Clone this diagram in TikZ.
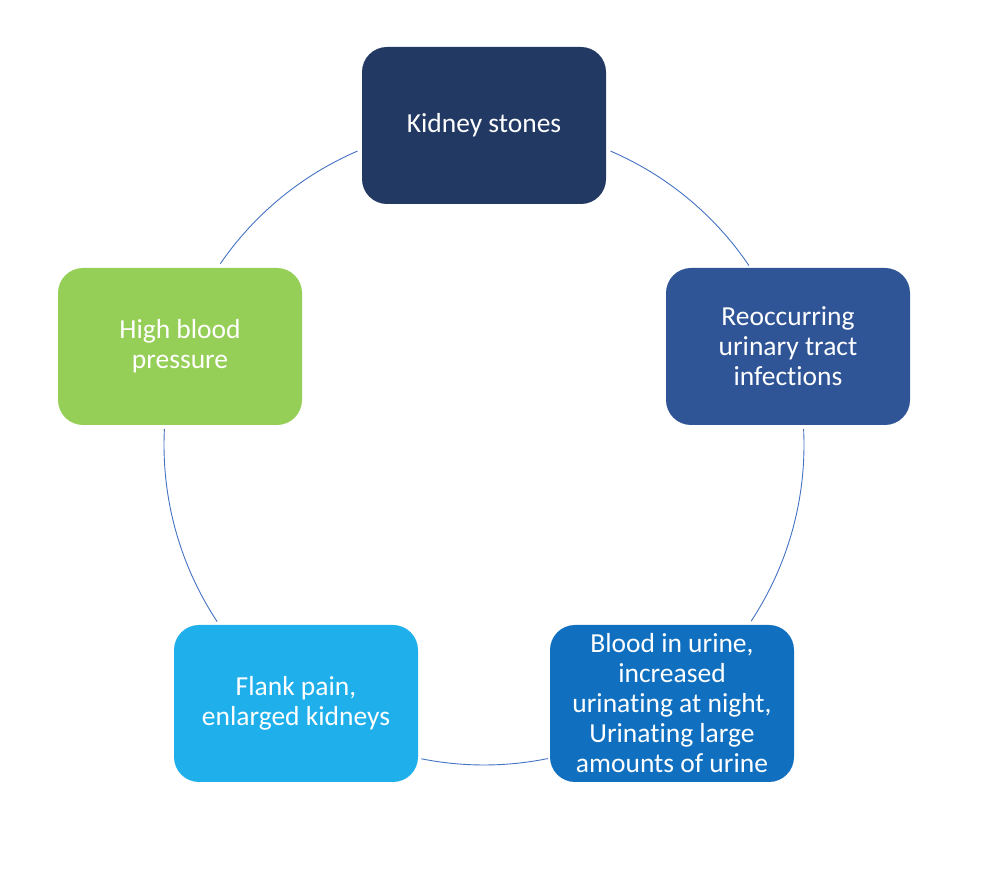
\documentclass[tikz,border=0pt]{standalone}
\usepackage{fontspec}
\setmainfont{Carlito}[Ligatures=NoCommon]
\begin{document}
\begin{tikzpicture}[x=1pt,y=1pt,
  box/.style={rounded corners=25pt, minimum width=244pt, minimum height=157pt,
    inner sep=0pt, align=center, text=white, font=\fontsize{27.5}{30}\selectfont},
  arcline/.style={draw=arcblue, line width=0.9pt}]
\definecolor{c1}{RGB}{34,58,99}
\definecolor{c2}{RGB}{47,85,151}
\definecolor{c3}{RGB}{16,112,191}
\definecolor{c4}{RGB}{31,176,236}
\definecolor{c5}{RGB}{150,207,88}
\definecolor{arcblue}{RGB}{68,114,196}
\useasboundingbox (0,0) rectangle (982,878);
\coordinate (c) at (484,433);
\def\R{320}
\draw[arcline] ([shift={(66.7:\R)}]c) arc[start angle=66.7, end angle=34.1, radius=\R];
\draw[arcline] ([shift={(2.9:\R)}]c) arc[start angle=2.9, end angle=-33.4, radius=\R];
\draw[arcline] ([shift={(-78.5:\R)}]c) arc[start angle=-78.5, end angle=-101.3, radius=\R];
\draw[arcline] ([shift={(-146.5:\R)}]c) arc[start angle=-146.5, end angle=-182.9, radius=\R];
\draw[arcline] ([shift={(145.5:\R)}]c) arc[start angle=145.5, end angle=113.3, radius=\R];
\node[box, fill=c1] (n1) at (484,752.5) {Kidney stones};
\node[box, fill=c2] (n2) at (788,531.5) {Reoccurring\\urinary tract\\infections};
\node[box, fill=c3] (n3) at (672,174.5) {Blood in urine,\\increased\\urinating at night,\\Urinating large\\amounts of urine};
\node[box, fill=c4] (n4) at (296,174.5) {Flank pain,\\enlarged kidneys};
\node[box, fill=c5] (n5) at (180,531.5) {High blood\\pressure};
\end{tikzpicture}
\end{document}
